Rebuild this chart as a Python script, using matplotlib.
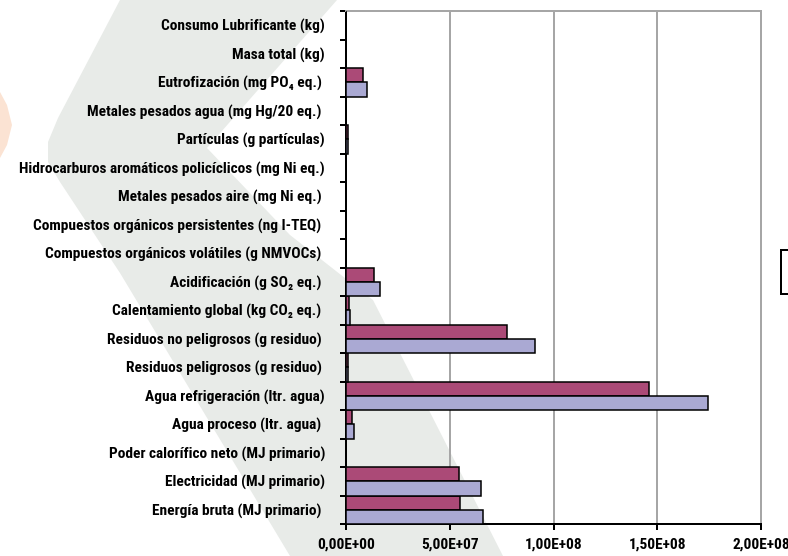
import matplotlib
matplotlib.use("Agg")
import matplotlib.pyplot as plt
from matplotlib.patches import Polygon, Rectangle
from matplotlib.ticker import FixedLocator
from matplotlib import font_manager as fm
import numpy as np

categories = [
    "Consumo Lubrificante (kg)",
    "Masa total (kg)",
    "Eutrofización (mg PO\u2084 eq.) ",
    "Metales pesados agua (mg Hg/20 eq.) ",
    "Partículas (g partículas)",
    "Hidrocarburos aromáticos policíclicos (mg Ni eq.)",
    "Metales pesados aire (mg Ni eq.) ",
    "Compuestos orgánicos persistentes (ng I-TEQ) ",
    "Compuestos orgánicos volátiles (g NMVOCs) ",
    "Acidificación (g SO\u2082 eq.) ",
    "Calentamiento global (kg CO\u2082 eq.) ",
    "Residuos no peligrosos (g residuo) ",
    "Residuos peligrosos (g residuo) ",
    "Agua refrigeración (ltr. agua)",
    "Agua proceso (ltr. agua) ",
    "Poder calorífico neto (MJ primario)",
    "Electricidad (MJ primario)",
    "Energía bruta (MJ primario) ",
]
serie_a = [0, 0, 8.3e6, 0, 0.8e6, 0, 0, 0, 0, 13.6e6, 1.6e6, 77.8e6, 0.8e6,
           146.0e6, 2.7e6, 0, 54.3e6, 55.1e6]
serie_b = [0, 0, 10.3e6, 0, 0.8e6, 0, 0, 0, 0, 16.4e6, 2.0e6, 91.2e6, 0.8e6,
           174.6e6, 3.9e6, 0, 65.1e6, 65.9e6]
x_ticks = [0, 5e7, 1e8, 1.5e8, 2e8]
x_tick_labels = ["0,00E+00", "5,00E+07", "1,00E+08", "1,50E+08", "2,00E+08"]

W, H = 788, 556
PT = 72 / 100  # points per pixel at dpi 100
fig = plt.figure(figsize=(W / 100, H / 100), dpi=100)
fig.patch.set_facecolor("white")

# pick a condensed family if one happens to be installed
family = "DejaVu Sans"
stretch = "normal"
for cand, st in [("Liberation Sans Narrow", "condensed"),
                 ("Roboto Condensed", "condensed"),
                 ("Open Sans Condensed", "condensed"),
                 ("DejaVu Sans Condensed", "condensed")]:
    try:
        fm.findfont(fm.FontProperties(family=cand), fallback_to_default=False)
        family, stretch = cand, st
        break
    except Exception:
        pass
lab_font = [family, "DejaVu Sans"]

# background watermark in a full-figure axes (pixel coords, y from top)
bg = fig.add_axes([0, 0, 1, 1], zorder=-1)
bg.set_xlim(0, W)
bg.set_ylim(H, 0)
bg.axis("off")
bg.add_patch(Polygon([(120, 0), (337, 0), (207, 148), (290, 235), (373, 300),
                      (503, 556), (290, 556), (120, 273), (60, 182),
                      (48, 162), (48, 142), (58, 118)], closed=True,
                     facecolor="#e8ebe8", edgecolor="none"))
bg.add_patch(Polygon([(0, 92), (7, 105), (12, 125), (7, 145), (0, 158)],
                     closed=True, facecolor="#fbe3d3", edgecolor="none"))

ax = fig.add_axes([346 / W, 1 - 524 / H, (761 - 346) / W, (524 - 11) / H],
                  zorder=1)
ax.set_facecolor("none")

n = len(categories)
pos = np.arange(n)[::-1]
ax.barh(pos, serie_a, height=0.5, align="edge", color="#ab4a77",
        edgecolor="black", linewidth=1.1, zorder=3)
ax.barh(pos - 0.5, serie_b, height=0.5, align="edge", color="#aaa9d3",
        edgecolor="black", linewidth=1.1, zorder=3)

ax.set_xlim(0, 2e8)
ax.set_ylim(-0.5, n - 0.5)
ax.xaxis.set_major_locator(FixedLocator(x_ticks))
ax.set_xticklabels(x_tick_labels)
ax.grid(axis="x", color="#a6a6a6", linewidth=2 * PT, zorder=1)

fp = dict(family=lab_font, fontweight="bold", fontstretch=stretch)
renderer = fig.canvas.get_renderer()
size = 13.0
longest = max(categories, key=len)
while size > 5:
    t = fig.text(0, 0, longest.strip(), fontsize=size, **fp)
    w = t.get_window_extent(renderer).width
    t.remove()
    if w <= 308:
        break
    size -= 0.1

ax.set_yticks(pos)
ax.set_yticklabels(categories, fontsize=size, **fp)
ax.tick_params(axis="y", which="major", length=0, pad=21 * PT)
ax.yaxis.set_minor_locator(FixedLocator(np.arange(n + 1) - 0.5))
ax.tick_params(axis="y", which="minor", length=6 * PT, width=2 * PT,
               direction="out", color="black")
ax.tick_params(axis="x", which="major", length=6 * PT, width=2 * PT,
               direction="out", pad=8 * PT)
for t in ax.get_xticklabels():
    t.set_fontsize(size)
    t.set_family(lab_font)
    t.set_fontweight("bold")
    t.set_fontstretch(stretch)

for s in ("left", "bottom"):
    ax.spines[s].set_color("black")
    ax.spines[s].set_linewidth(2 * PT)
for s in ("top", "right"):
    ax.spines[s].set_color("#a6a6a6")
    ax.spines[s].set_linewidth(2 * PT)

# partially visible legend box at the right edge
box = Rectangle((781 / W, 1 - 294 / H), 20 / W, 44 / H,
                transform=fig.transFigure, facecolor="white",
                edgecolor="black", linewidth=2 * PT, zorder=5)
fig.patches.append(box)

fig.savefig("out.png", dpi=100)
